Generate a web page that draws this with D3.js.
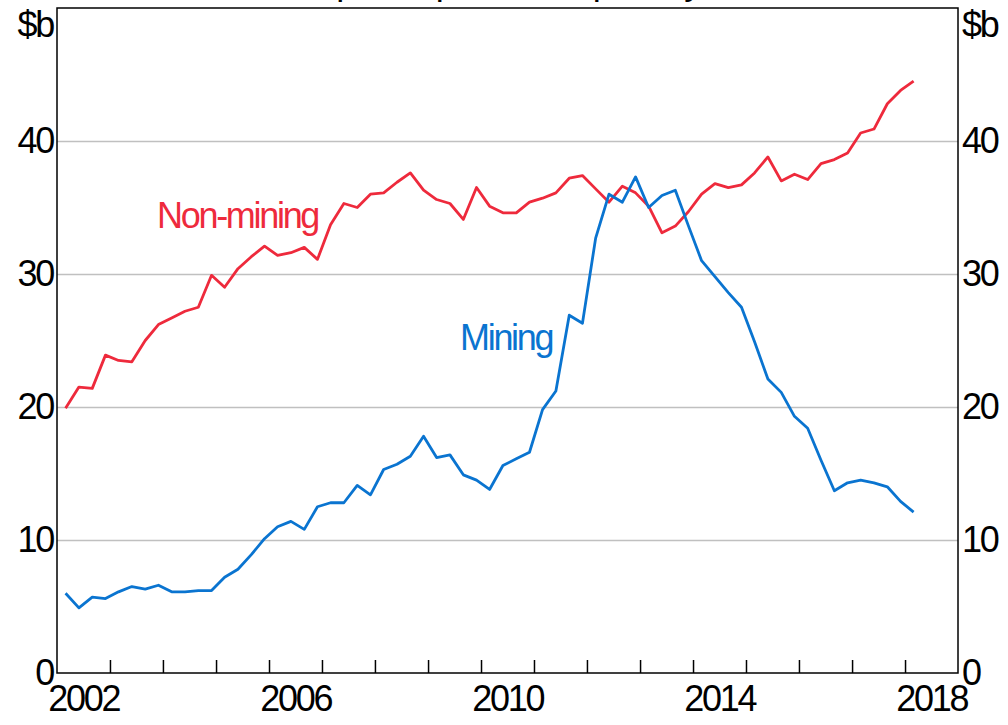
<!DOCTYPE html>
<meta charset="utf-8">
<style>
body { margin: 0; background: #fff; }
text { font-family: "Liberation Sans", Arial, sans-serif; }
.tick text { font-size: 36px; letter-spacing: -2.3px; fill: #000; }
.domain { display: none; }
.grid line { stroke: #c0c0c0; stroke-width: 1.5px; }
.line { fill: none; stroke-width: 2.8px; stroke-linejoin: round; }
</style>
<body>
<script src="https://d3js.org/d3.v7.min.js"></script>
<script>

// quarterly values, $b, 2002 Q1 to 2018 Q1
var nonMining = [19.9, 21.5, 21.4, 23.9, 23.5, 23.4, 25.0, 26.2, 26.7, 27.2,
                 27.5, 29.9, 29.0, 30.4, 31.3, 32.1, 31.4, 31.6, 32.0, 31.1,
                 33.7, 35.3, 35.0, 36.0, 36.1, 36.9, 37.6, 36.3, 35.6, 35.3,
                 34.1, 36.5, 35.1, 34.6, 34.6, 35.4, 35.7, 36.1, 37.2, 37.4,
                 36.4, 35.4, 36.6, 36.1, 35.1, 33.1, 33.6, 34.7, 36.0, 36.8,
                 36.5, 36.7, 37.6, 38.8, 37.0, 37.5, 37.1, 38.3, 38.6, 39.1,
                 40.6, 40.9, 42.8, 43.8, 44.5];
var mining = [6.0, 4.9, 5.7, 5.6, 6.1, 6.5, 6.3, 6.6, 6.1, 6.1,
              6.2, 6.2, 7.2, 7.8, 8.9, 10.1, 11.0, 11.4, 10.8, 12.5,
              12.8, 12.8, 14.1, 13.4, 15.3, 15.7, 16.3, 17.8, 16.2, 16.4,
              14.9, 14.5, 13.8, 15.6, 16.1, 16.6, 19.8, 21.2, 26.9, 26.3,
              32.7, 36.0, 35.4, 37.3, 35.0, 35.9, 36.3, 33.6, 31.0, 29.8,
              28.6, 27.5, 24.9, 22.1, 21.1, 19.3, 18.4, 16.0, 13.7, 14.3,
              14.5, 14.3, 14.0, 12.9, 12.1];
var startYear = 2002;
var yearLabels = [2002, 2006, 2010, 2014, 2018];
var yTicks = [0, 10, 20, 30, 40];

var margin = {top: 8, right: 50, bottom: 52, left: 57},
    width = 1008 - margin.left - margin.right,
    height = 725 - margin.top - margin.bottom;

// quarter dates (plotted at the start of the quarter's last month)
var dates = nonMining.map(function(d, i) {
  return new Date(startYear + Math.floor(i / 4), 3 * (i % 4) + 2, 1);
});

var x = d3.scaleTime()
    .domain([new Date(2002, 0, 1), new Date(2019, 0, 1)])
    .range([0, width]);
var y = d3.scaleLinear().domain([0, 50]).range([height, 0]);

var svg = d3.select("body").append("svg")
    .attr("width", 1008)
    .attr("height", 725)
  .append("g")
    .attr("transform", "translate(" + margin.left + "," + margin.top + ")");

// title, sits above the visible area (only descenders show)
svg.append("text")
    .attr("x", 643)
    .attr("y", -14)
    .attr("text-anchor", "end")
    .style("font-size", "36px")
    .style("letter-spacing", "-2.3px")
    .text("Private Capital Expenditure, quarterly");

// gridlines
svg.append("g")
    .attr("class", "grid")
    .call(d3.axisLeft(y).tickValues([10, 20, 30, 40]).tickSize(-width).tickFormat(""));

// y labels both sides
svg.append("g")
    .call(d3.axisLeft(y).tickValues(yTicks).tickSize(0).tickPadding(4));
svg.append("g")
    .attr("transform", "translate(" + width + ",0)")
    .call(d3.axisRight(y).tickValues(yTicks).tickSize(0).tickPadding(4));

svg.append("text").attr("x", -4).attr("y", 29).attr("text-anchor", "end")
    .style("font-size", "36px").style("letter-spacing", "-2.3px").text("$b");
svg.append("text").attr("x", width + 4).attr("y", 29)
    .style("font-size", "36px").style("letter-spacing", "-2.3px").text("$b");

// year ticks inside the frame
var yearTicks = d3.range(2003, 2019).map(function(yr) { return new Date(yr, 0, 1); });
svg.append("g")
    .attr("transform", "translate(0," + height + ")")
    .call(d3.axisBottom(x).tickValues(yearTicks).tickSize(-13).tickFormat(""))
    .selectAll("line").attr("stroke", "#000").attr("stroke-width", 1.5);

// year labels centred in each year
svg.append("g")
    .attr("transform", "translate(0," + height + ")")
    .call(d3.axisBottom(x)
      .tickValues(yearLabels.map(function(yr) { return new Date(yr, 6, 1); }))
      .tickSize(0).tickPadding(12)
      .tickFormat(d3.timeFormat("%Y")));

// frame
svg.append("rect")
    .attr("width", width)
    .attr("height", height)
    .attr("fill", "none")
    .attr("stroke", "#000")
    .attr("stroke-width", 1.5);

var line = d3.line()
    .x(function(d, i) { return x(dates[i]); })
    .y(function(d) { return y(d); });

svg.append("path")
    .datum(nonMining)
    .attr("class", "line")
    .attr("stroke", "#ee2a3c")
    .attr("d", line);
svg.append("path")
    .datum(mining)
    .attr("class", "line")
    .attr("stroke", "#0a74d0")
    .attr("d", line);

svg.append("text").attr("x", 100).attr("y", 220)
    .attr("fill", "#ee2a3c")
    .style("font-size", "36px").style("letter-spacing", "-2.3px")
    .text("Non-mining");
svg.append("text").attr("x", 403).attr("y", 342)
    .attr("fill", "#0a74d0")
    .style("font-size", "36px").style("letter-spacing", "-2.3px")
    .text("Mining");

</script>
</body>
